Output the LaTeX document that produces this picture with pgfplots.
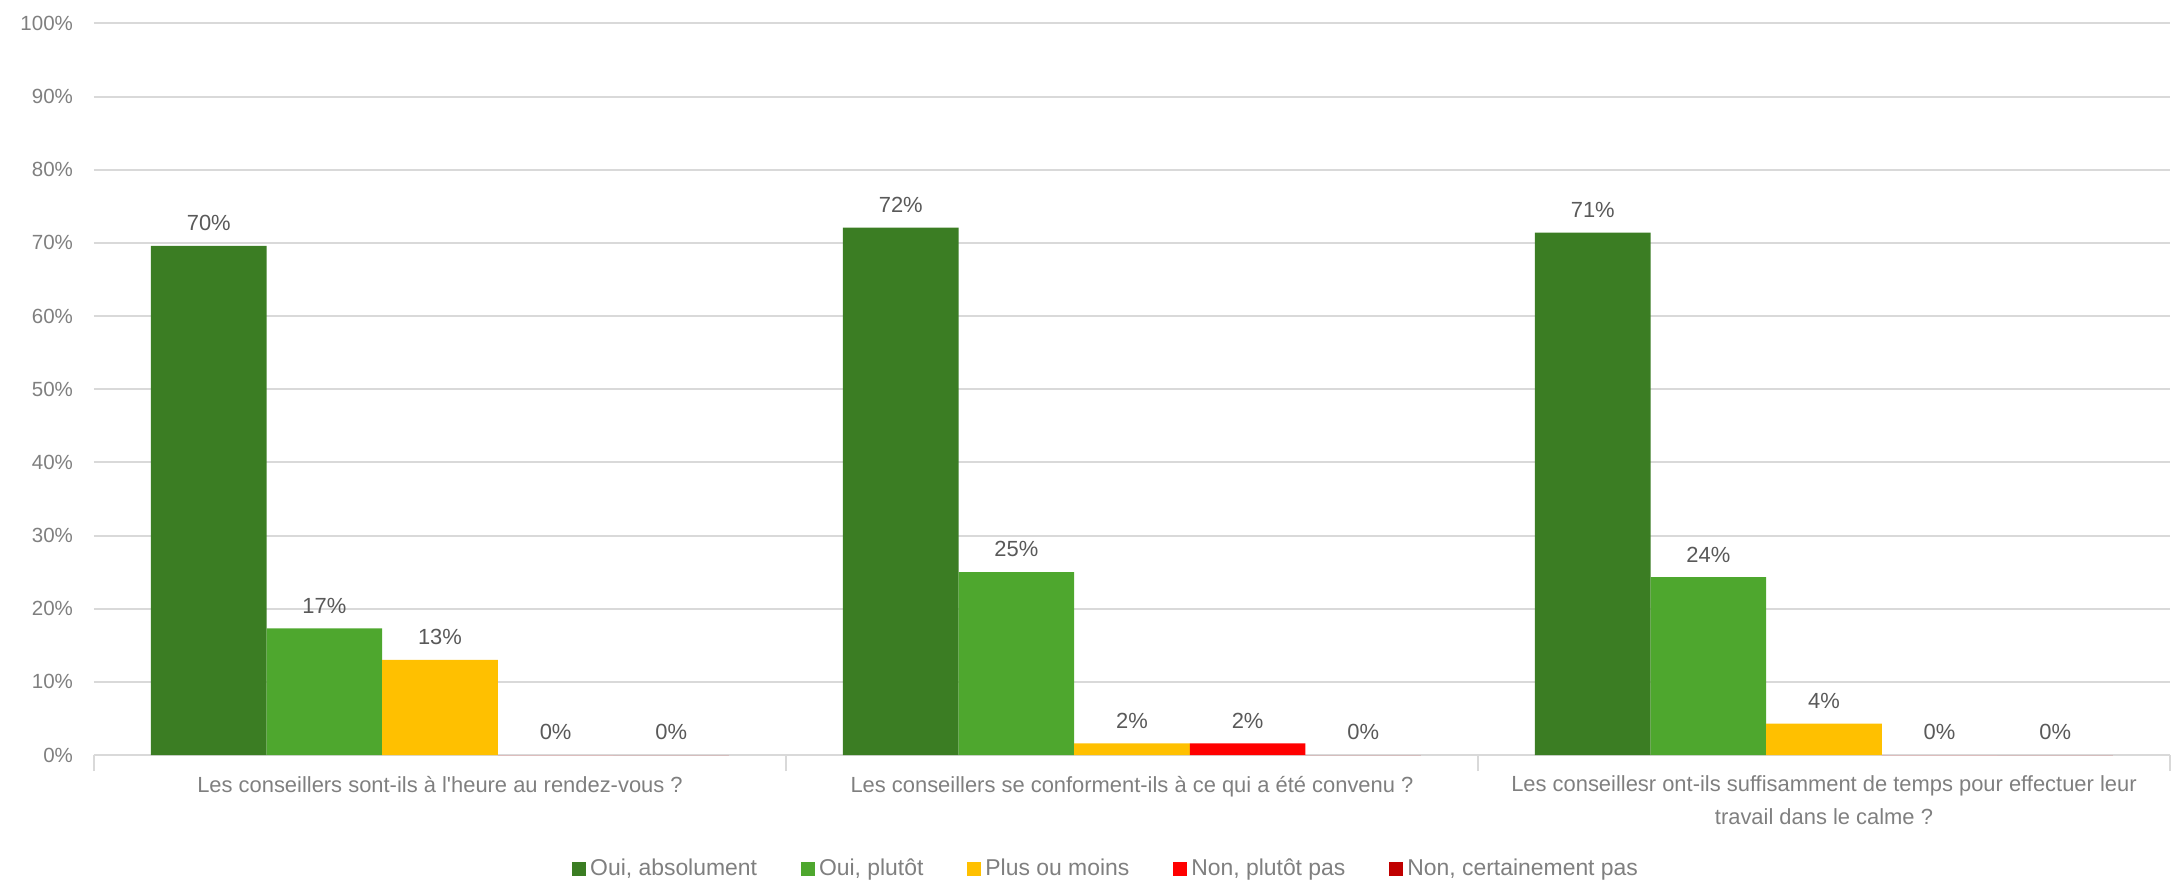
\documentclass[border=0pt]{standalone}
\usepackage{fontspec}
\setmainfont{Liberation Sans}[Ligatures=TeXOff]
\usepackage{pgfplots}
\pgfplotsset{compat=1.18}
\definecolor{cA}{HTML}{3B7D23}
\definecolor{cB}{HTML}{4EA72E}
\definecolor{cC}{HTML}{FFC000}
\definecolor{cD}{HTML}{FF0000}
\definecolor{cE}{HTML}{C00000}
\definecolor{gridc}{HTML}{D9D9D9}
\definecolor{tickc}{HTML}{7F7F7F}
\definecolor{labc}{HTML}{595959}
\begin{document}
\begin{tikzpicture}
\begin{axis}[
  at={(0,0)}, anchor=south west,
  scale only axis, width=1038bp, height=365.8bp,
  ybar=0pt, bar width=57.8bp,
  xmin=-0.5, xmax=2.5, ymin=0, ymax=100,
  axis lines*=left,
  y axis line style={draw=none},
  x axis line style={gridc, line width=1.3bp},
  /pgf/number format/assume math mode=true,
  ytick={0,10,...,100},
  yticklabel={\pgfmathprintnumber{\tick}\%},
  yticklabel style={font=\fontsize{10.3}{12}\selectfont, text=tickc, xshift=-7bp},
  ymajorgrids, grid style={gridc, line width=1bp},
  xtick={0,1,2},
  xticklabels={{Les conseillers sont-ils à l'heure au rendez-vous ?},{Les conseillers se conforment-ils à ce qui a été convenu ?},{Les conseillesr ont-ils suffisamment de temps pour effectuer leur\\travail dans le calme ?}},
  xticklabel style={font=\fontsize{11}{16.6}\selectfont, text=tickc, align=center, yshift=-7bp},
  minor xtick={-0.5,0.5,1.5,2.5},
  major tick length=0pt, minor tick length=8bp, tick align=outside,
  minor tick style={gridc, line width=1.3bp},
  nodes near coords={\pgfmathprintnumber[fixed,precision=0,assume math mode=true]{\pgfplotspointmeta}\%},
  nodes near coords style={font=\fontsize{11}{13}\selectfont, text=labc, yshift=4bp},
  every axis plot post/.append style={legend image code/.code={\fill[##1] (0bp,-3.5bp) rectangle (7bp,3.5bp);}},
  legend columns=5,
  legend style={at={(axis description cs:0.488,-0.156)}, anchor=center, draw=none,
    font=\fontsize{11.5}{14}\selectfont, text=tickc,
    /tikz/every even column/.append style={column sep=20bp}},
  clip=false,
]
\addplot[fill=cA, draw=none] coordinates {(0,69.6) (1,72.1) (2,71.4)};
\addplot[fill=cB, draw=none] coordinates {(0,17.3) (1,25.0) (2,24.3)};
\addplot[fill=cC, draw=none] coordinates {(0,13.0) (1,1.6) (2,4.3)};
\addplot[fill=cD, draw=none] coordinates {(0,0) (1,1.6) (2,0)};
\addplot[fill=cE, draw=none] coordinates {(0,0) (1,0) (2,0)};
\legend{{Oui, absolument}, {Oui, plutôt}, {Plus ou moins}, {Non, plutôt pas}, {Non, certainement pas}}
\end{axis}
\pgfresetboundingbox
\path[use as bounding box] (-47bp,-63bp) rectangle (1039.5bp,377.5bp);
\end{tikzpicture}
\end{document}
